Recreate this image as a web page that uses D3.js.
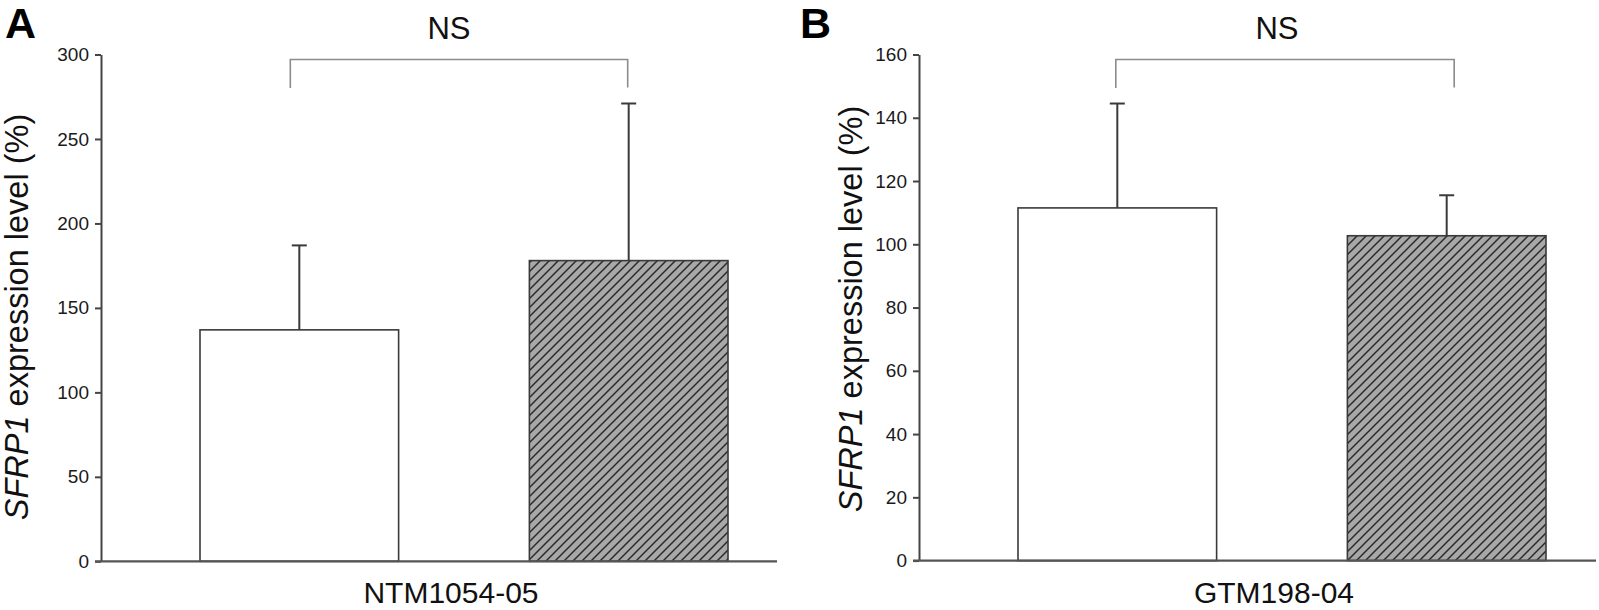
<!DOCTYPE html>
<html>
<head>
<meta charset="utf-8">
<script src="https://cdn.jsdelivr.net/npm/d3@7/dist/d3.min.js"></script>
<style>
  html, body { margin: 0; padding: 0; background: #fff; }
  svg { display: block; }
  text { font-family: "Liberation Sans", Arial, Helvetica, sans-serif; }
</style>
</head>
<body>
<svg id="chart" width="1599" height="610"></svg>
<script>
// ---- Data ----
const groups = ["Control", "Treated"];
const panelLabels = ["A", "B"];
const xLabels = ["NTM1054-05", "GTM198-04"];
const valuesA = [137, 178];
const errorsA = [50, 93];       // upper error (mean + SD)
const valuesB = [111.5, 102.7];
const errorsB = [33, 12.8];
const ticksA = [0, 50, 100, 150, 200, 250, 300];
const ticksB = [0, 20, 40, 60, 80, 100, 120, 140, 160];
const sigLabels = ["NS", "NS"];

const svg = d3.select("#chart");

// hatch pattern
const defs = svg.append("defs");
const pat = defs.append("pattern")
  .attr("id", "hatch")
  .attr("patternUnits", "userSpaceOnUse")
  .attr("width", 9).attr("height", 9);
pat.append("rect").attr("width", 9).attr("height", 9).attr("fill", "#a8a8a8");
pat.append("path")
  .attr("d", "M-1,10 L10,-1 M-2,2 L2,-2 M7,11 L11,7")
  .attr("stroke", "#2a2a2a").attr("stroke-width", 1.5);

const panels = [
  { values: valuesA, errors: errorsA, ticks: ticksA, max: 300,
    axisX: 101, yTop: 54.5, yBase: 561.3, barRange: [200, 728],
    baseLeft: 95, baseRight: 777,
    bracketOff: [-9, -1], labelPos: [5, 38], nsX: 449, xLabelX: 451,
    titleX: 28, titleY: 317 },
  { values: valuesB, errors: errorsB, ticks: ticksB, max: 160,
    axisX: 919, yTop: 54.5, yBase: 560.6, barRange: [1018, 1546],
    baseLeft: 913, baseRight: 1596,
    bracketOff: [-1.5, 7.5], labelPos: [800, 38], nsX: 1277, xLabelX: 1274,
    titleX: 862, titleY: 309 }
];

panels.forEach((p, pi) => {
  const g = svg.append("g");
  const y = d3.scaleLinear().domain([0, p.max]).range([p.yBase, p.yTop]);
  const x = d3.scaleBand().domain(groups).range(p.barRange).paddingInner(0.397).paddingOuter(0);

  // bars
  groups.forEach((grp, i) => {
    g.append("rect")
      .attr("x", x(grp))
      .attr("y", y(p.values[i]))
      .attr("width", x.bandwidth())
      .attr("height", y(0) - y(p.values[i]))
      .attr("fill", i === 0 ? "#ffffff" : "url(#hatch)")
      .attr("stroke", "#3a3a3a")
      .attr("stroke-width", 1.6);
  });

  // error bars (upper only)
  groups.forEach((grp, i) => {
    const cx = x(grp) + x.bandwidth() / 2;
    const top = y(p.values[i] + p.errors[i]);
    g.append("line")
      .attr("x1", cx).attr("x2", cx)
      .attr("y1", y(p.values[i])).attr("y2", top)
      .attr("stroke", "#3a3a3a").attr("stroke-width", 2);
    g.append("line")
      .attr("x1", cx - 7.5).attr("x2", cx + 7.5)
      .attr("y1", top).attr("y2", top)
      .attr("stroke", "#3a3a3a").attr("stroke-width", 2);
  });

  // y axis
  const axis = d3.axisLeft(y).tickValues(p.ticks).tickSize(6).tickSizeOuter(0).tickPadding(6);
  const ag = g.append("g").attr("transform", `translate(${p.axisX},0)`).call(axis);
  ag.select(".domain").attr("stroke", "#444").attr("stroke-width", 2);
  ag.selectAll(".tick line").attr("stroke", "#444").attr("stroke-width", 2);
  ag.selectAll(".tick text")
    .attr("font-size", 19)
    .attr("fill", "#1a1a1a")
    .attr("font-family", "Liberation Sans, Arial, sans-serif");

  // baseline
  g.append("line")
    .attr("x1", p.baseLeft).attr("x2", p.baseRight)
    .attr("y1", y(0)).attr("y2", y(0))
    .attr("stroke", "#555").attr("stroke-width", 2.2);

  // significance bracket
  const c0 = x(groups[0]) + x.bandwidth() / 2 + p.bracketOff[0];
  const c1 = x(groups[1]) + x.bandwidth() / 2 + p.bracketOff[1];
  g.append("path")
    .attr("d", `M${c0},88 L${c0},59.5 L${c1},59.5 L${c1},87.5`)
    .attr("fill", "none").attr("stroke", "#8c8c8c").attr("stroke-width", 1.6);
  g.append("text")
    .attr("x", p.nsX).attr("y", 39)
    .attr("text-anchor", "middle")
    .attr("font-size", 31).attr("fill", "#111")
    .text(sigLabels[pi]);

  // x label
  g.append("text")
    .attr("x", p.xLabelX).attr("y", 603)
    .attr("text-anchor", "middle")
    .attr("font-size", 30).attr("fill", "#111")
    .text(xLabels[pi]);

  // y title
  const t = g.append("text")
    .attr("transform", `translate(${p.titleX},${p.titleY}) rotate(-90)`)
    .attr("text-anchor", "middle")
    .attr("font-size", 32.5).attr("fill", "#111");
  t.append("tspan").attr("font-style", "italic").text("SFRP1");
  t.append("tspan").text(" expression level (%)");

  // panel letter
  g.append("text")
    .attr("x", p.labelPos[0]).attr("y", p.labelPos[1])
    .attr("font-size", 43).attr("font-weight", "bold").attr("fill", "#000")
    .text(panelLabels[pi]);
});
</script>
</body>
</html>
